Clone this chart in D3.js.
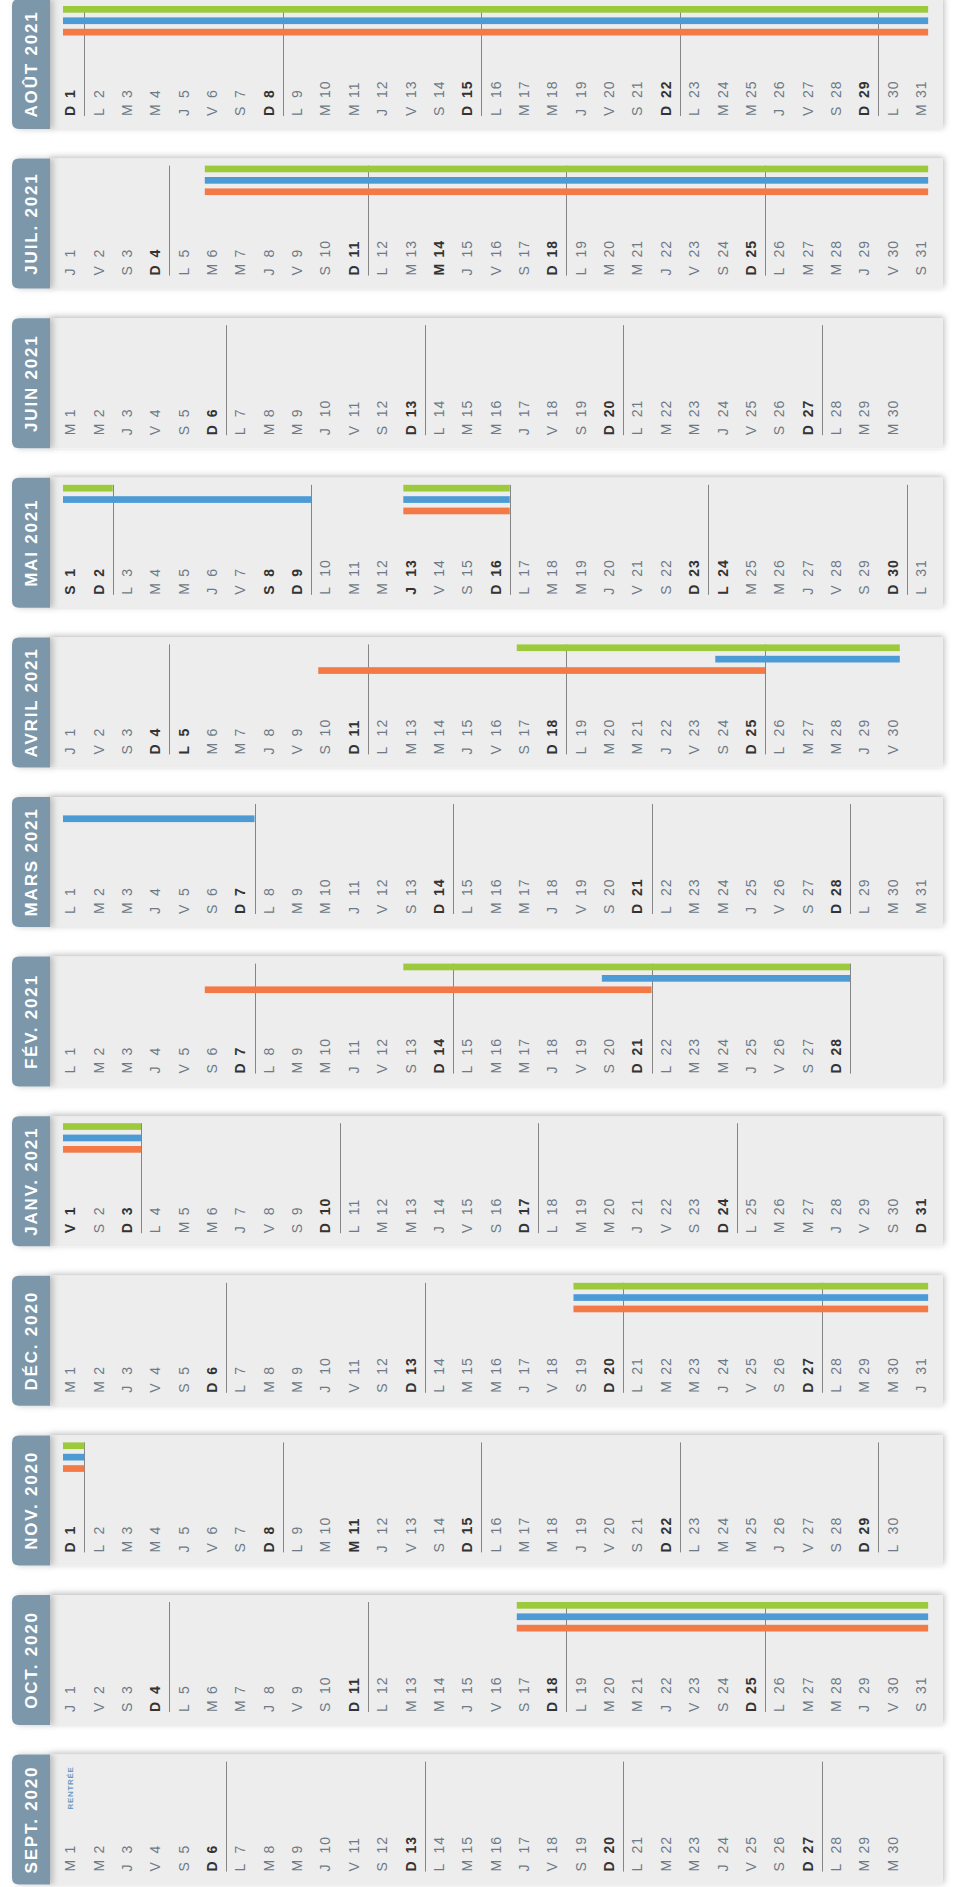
<!DOCTYPE html>
<html><head><meta charset="utf-8">
<script src="https://cdn.jsdelivr.net/npm/d3@7"></script>
<style>body{margin:0;background:#fff}svg{display:block}</style>
</head><body>
<svg id="c" width="954" height="1887"></svg>
<script>
// ---------- DATA ----------
const monthLabels = ["AOÛT 2021","JUIL. 2021","JUIN 2021","MAI 2021","AVRIL 2021","MARS 2021","FÉV. 2021","JANV. 2021","DÉC. 2020","NOV. 2020","OCT. 2020","SEPT. 2020"];
const monthYears  = [2021,2021,2021,2021,2021,2021,2021,2021,2020,2020,2020,2020];
const monthNumbers = [8,7,6,5,4,3,2,1,12,11,10,9];
const dayLetters = ["D","L","M","M","J","V","S"];
const boldHolidays = ["2020-11-01","2020-11-11","2021-01-01","2021-04-05","2021-05-01","2021-05-08","2021-05-13","2021-05-24","2021-07-14","2021-08-15"];
const zones = ["C","B","A"];
const zoneColors = ["#9dca3c","#4d9bd5","#f37a46"];
const zoneCPeriods = [["2020-10-17","2020-11-01"],["2020-12-19","2021-01-03"],["2021-02-13","2021-02-28"],["2021-04-17","2021-05-02"],["2021-05-13","2021-05-16"],["2021-07-06","2021-08-31"]];
const zoneBPeriods = [["2020-10-17","2020-11-01"],["2020-12-19","2021-01-03"],["2021-02-20","2021-03-07"],["2021-04-24","2021-05-09"],["2021-05-13","2021-05-16"],["2021-07-06","2021-08-31"]];
const zoneAPeriods = [["2020-10-17","2020-11-01"],["2020-12-19","2021-01-03"],["2021-02-06","2021-02-21"],["2021-04-10","2021-04-25"],["2021-05-13","2021-05-16"],["2021-07-06","2021-08-31"]];
const rentreeLabel = "RENTRÉE";
const rentreeDate = "2020-09-01";

// ---------- CHART ----------
const parse = d3.timeParse("%Y-%m-%d");
const fmt = d3.timeFormat("%Y-%m-%d");
const zonePeriods = [zoneCPeriods, zoneBPeriods, zoneAPeriods];
const boldSet = new Set(boldHolidays);
const FONT = "'Liberation Sans',Arial,sans-serif";

const svg = d3.select("#c");
const defs = svg.append("defs");
const f1 = defs.append("filter").attr("id","psh").attr("x","-5%").attr("y","-20%").attr("width","110%").attr("height","140%");
f1.append("feDropShadow").attr("dx",1).attr("dy",-1.5).attr("stdDeviation",3).attr("flood-color","#000").attr("flood-opacity",0.28);
const f2 = defs.append("filter").attr("id","tsh").attr("x","-30%").attr("y","-10%").attr("width","170%").attr("height","120%");
f2.append("feDropShadow").attr("dx",3).attr("dy",0).attr("stdDeviation",3).attr("flood-color","#000").attr("flood-opacity",0.22);

const PANEL_H = 130;
const y = d3.scaleLinear().domain([0, monthLabels.length-1]).range([-1, 1754.6]);
const x = d3.scaleLinear().domain([1, 32]).range([56, 56 + 31*28.36]);
const zy = d3.scalePoint().domain(zones).range([7, 29.8]);
const BAR_H = 6.7;
const panelX0 = 50, panelX1 = 943, tabX0 = 12;
const LABEL_Y = 117;

monthLabels.forEach((label, i) => {
  const top = y(i);
  const yr = monthYears[i], mo = monthNumbers[i];
  const mStart = new Date(yr, mo-1, 1), mEnd = new Date(yr, mo, 0);
  const days = d3.timeDays(mStart, new Date(yr, mo, 1));
  const g = svg.append("g");

  g.append("rect").attr("x", panelX0).attr("y", top).attr("width", panelX1-panelX0).attr("height", PANEL_H)
    .attr("fill", "#ededed").attr("filter","url(#psh)");

  // week separators
  days.filter(d => d.getDay()===0 && d.getDate() < 31).forEach(d => {
    const lx = Math.round(x(d.getDate()+1)) + 0.5;
    g.append("line").attr("x1", lx).attr("x2", lx).attr("y1", top+7).attr("y2", top+LABEL_Y)
      .attr("stroke", "#858585").attr("stroke-width", 1);
  });

  // holiday bars
  zones.forEach((z, zi) => {
    zonePeriods[zi].forEach(p => {
      const s = parse(p[0]), e = parse(p[1]);
      if (s > mEnd || e < mStart) return;
      const sd = (s < mStart ? mStart : s).getDate();
      const eDate = e > mEnd ? mEnd : e;
      const ed = eDate.getDate();
      const x1 = x(sd) + 7;
      const x2 = x(ed+1) - (eDate.getDay()===0 ? 0 : 7);
      g.append("rect").attr("x", x1).attr("y", top + zy(z)).attr("width", x2-x1).attr("height", BAR_H)
        .attr("fill", zoneColors[zi]);
    });
  });

  // day labels
  days.forEach(d => {
    const dn = d.getDate();
    const bold = d.getDay()===0 || boldSet.has(fmt(d));
    const col = bold ? "#333333" : "#6e7a87";
    const lg = g.append("g").attr("transform", `translate(${x(dn+0.5)},${top+LABEL_Y}) rotate(-90)`);
    lg.append("text").attr("x", 0).attr("dy", "0.36em").text(dayLetters[d.getDay()])
      .attr("font-family",FONT).attr("font-size",14)
      .attr("font-weight", bold ? 700 : 400).attr("fill", col);
    lg.append("text").attr("x", 18).attr("dy", "0.36em").text(dn)
      .attr("font-family",FONT).attr("font-size",14)
      .attr("letter-spacing", 1)
      .attr("font-weight", bold ? 700 : 400).attr("fill", col);
    if (fmt(d) === rentreeDate) {
      lg.append("text").attr("x", 62).attr("dy", "0.36em").text(rentreeLabel)
        .attr("font-family",FONT).attr("font-size",8)
        .attr("font-weight",700).attr("letter-spacing",0.7).attr("fill","#6a9cc0");
    }
  });

  // tab
  const r = 7, tw = panelX0 - tabX0;
  const path = `M${panelX0},${top} H${tabX0+r} Q${tabX0},${top} ${tabX0},${top+r} V${top+PANEL_H-r} Q${tabX0},${top+PANEL_H} ${tabX0+r},${top+PANEL_H} H${panelX0} Z`;
  g.append("path").attr("d", path).attr("fill", "#7b97aa").attr("filter","url(#tsh)");
  g.append("text").attr("transform", `translate(${tabX0 + tw/2},${top + PANEL_H/2}) rotate(-90)`)
    .attr("text-anchor","middle").attr("dy","0.36em").text(label)
    .attr("font-family",FONT).attr("font-size",17).attr("font-weight",700)
    .attr("letter-spacing",1.8).attr("fill","#fff");
});
</script>
</body></html>
